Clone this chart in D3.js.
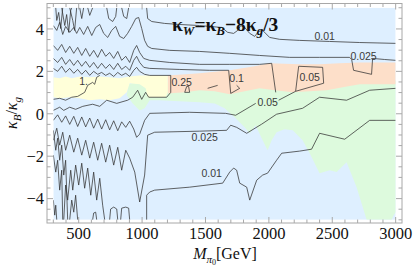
<!DOCTYPE html>
<html>
<head>
<meta charset="utf-8">
<script src="https://cdn.jsdelivr.net/npm/d3@7"></script>
<style>
  html, body { margin: 0; padding: 0; background: #fff; }
  svg { display: block; }
  .tick-label { font-family: "Liberation Serif", "DejaVu Serif", serif; font-size: 16.5px; fill: #111; }
  .clabel { font-family: "Liberation Sans", Arial, sans-serif; font-size: 10.5px; fill: #3a3a3a; }
</style>
</head>
<body>
<div id="chart"></div>
<script>
// axis ticks
const xTicks = [500, 1000, 1500, 2000, 2500, 3000];
const xMinorTicks = [300, 400, 600, 700, 800, 900, 1100, 1200, 1300, 1400, 1600, 1700, 1800, 1900,
  2100, 2200, 2300, 2400, 2600, 2700, 2800, 2900];
const yTicks = [-4, -2, 0, 2, 4];
const yMinorTicks = [-5, -4.5, -3.5, -3, -2.5, -1.5, -1, -0.5, 0.5, 1, 1.5, 2.5, 3, 3.5, 4.5, 5];
const xRange = [300, 3000];
const yRange = [-5, 5];

// shaded regions [M, kB/kg]
const regionGreen = [[879,0.87],[894,1.39],[942,1.48],[997,1.44],[1044,1.48],[1454,1.48],[2243,1.58],[3000,1.58],
  [3000,-4.64],[2984,-4.78],[2968,-5],[2771,-5],[2692,-3.46],[2613,-2.28],[2534,-2.75],[2479,-2.66],[2400,-2.8],
  [2322,-1.86],[2266,-1.25],[2188,-0.78],[2124,-0.73],[2061,-0.87],[2022,-1.25],[1990,-1.72],[1943,-1.15],
  [1896,-0.54],[1849,-0.92],[1809,-0.64],[1730,-0.16],[1651,0.26],[1573,0.49],[1454,0.54],[1297,0.59],
  [1139,0.64],[1060,0.64],[1020,0.26],[981,0.16],[926,0.49],[879,0.87]];
const regionOrange = [[1202,1.81],[1454,1.91],[1691,2.05],[1888,2.24],[2006,2.38],[2243,2.33],[2400,2.33],
  [2558,2.38],[2716,2.42],[3000,2.42],[3000,1.39],[2716,1.39],[2582,1.25],[2456,1.11],[2188,1.01],[2046,1.11],
  [1927,1.2],[1770,1.01],[1691,0.92],[1573,1.06],[1454,1.11],[1336,1.01],[1202,0.96]];
const regionYellow = [[300,1.72],[350,1.67],[397,1.76],[445,1.67],[508,1.76],[587,1.72],[666,1.76],[744,1.72],
  [823,1.67],[902,1.76],[981,1.81],[1060,1.81],[1202,1.81],[1202,1.01],[1186,0.78],[1044,0.78],[1028,1.2],
  [981,1.39],[902,1.44],[879,1.01],[823,0.73],[744,0.64],[666,0.68],[587,0.64],[508,0.73],[429,0.78],
  [350,0.73],[300,0.78]];

// contour lines
const line001Top = [[1036,5],[1044,4.49],[1076,4.35],[1178,4.26],[1297,4.21],[1454,4.16],[1628,4.07],[1675,3.84],
  [1722,3.79],[1754,3.93],[1778,4.16],[1809,4.07],[1849,3.79],[1888,3.65],[1919,3.88],[1951,3.93],[2006,3.6],
  [2085,3.51],[2243,3.46],[2479,3.41],[2716,3.36],[3000,3.32]];
const line0025Top = [[300,4.16],[327,3.93],[350,4.31],[374,3.74],[397,4.12],[429,3.84],[461,4.07],[484,3.79],
  [508,4.07],[539,3.74],[571,4.12],[603,3.69],[634,4.07],[666,4.21],[697,3.79],[729,3.6],[760,3.93],[792,4.12],
  [823,3.65],[855,3.55],[886,3.79],[918,4.12],[950,4.49],[973,4.54],[997,4.02],[1020,3.46],[1044,3.18],
  [1076,3.08],[1218,2.99],[1454,2.94],[1691,2.85],[1927,2.75],[2164,2.66],[2400,2.66],[2637,2.66],[2653,2.56],
  [2668,2.05],[2810,1.86],[2818,2.61],[2913,2.56],[3000,2.52]];
const line005Top = [[300,3.22],[334,2.99],[366,3.27],[397,2.89],[429,3.18],[461,2.85],[492,3.13],[524,2.75],
  [555,3.08],[587,2.71],[618,2.99],[650,2.66],[681,3.04],[713,2.71],[744,2.89],[776,2.61],[808,2.94],[839,2.52],
  [871,2.71],[902,2.42],[934,2.99],[957,3.22],[981,2.89],[1013,2.61],[1060,2.52],[1218,2.42],[1454,2.33],
  [1691,2.33],[1927,2.33],[2022,2.38],[2054,1.01]];
const line01Top = [[300,2.61],[334,2.42],[366,2.66],[397,2.33],[429,2.56],[461,2.28],[492,2.52],[524,2.24],
  [555,2.47],[587,2.19],[618,2.42],[650,2.14],[681,2.38],[713,2.14],[744,2.33],[776,2.09],[808,2.38],[839,2.09],
  [871,2.24],[902,2.05],[934,2.52],[957,2.71],[981,2.42],[1013,2.19],[1060,2.14],[1297,2.09],[1533,2.05],
  [1683,2.05],[1699,0.96],[1770,1.2],[1746,1.34]];
const line025 = [[300,2.14],[334,2],[366,2.24],[397,1.95],[429,2.14],[461,1.91],[492,2.09],[524,1.86],[555,2.05],
  [587,1.81],[618,2],[650,1.86],[681,1.95],[713,1.81],[744,1.91],[776,1.76],[808,1.95],[839,1.81],[871,1.91],
  [902,1.76],[934,2.05],[957,2.19],[981,2],[1020,1.86],[1060,1.81],[1226,1.81],[1226,1.01],[1194,0.78],
  [1052,0.78],[1028,1.01],[997,0.68],[965,1.11],[926,0.78],[886,0.64],[800,0.49],[721,0.64],[666,0.35],
  [610,0.45],[532,0.35],[476,0.21],[429,0.31],[382,0.16],[350,0.31],[300,0.16]];
const line025Bits = [
  [[1336,1.01],[1352,1.29],[1367,1.29],[1375,1.01],[1336,1.01]],
  [[1517,1.2],[1596,1.34]]
];
const line1 = [[300,0.68],[350,0.73],[397,0.64],[445,0.78],[492,0.82],[547,1.01],[571,1.34],[610,1.48],
  [626,1.39],[642,1.72],[666,1.81]];
const line005Low = [[300,-0.31],[334,-0.05],[366,-0.4],[397,-0.1],[429,-0.5],[461,-0.12],[492,-0.6],[524,-0.15],
  [555,-0.62],[587,-0.2],[618,-0.68],[650,-0.25],[681,-0.72],[713,-0.28],[744,-0.76],[776,-0.33],[808,-0.8],
  [839,-0.38],[871,-0.64],[902,-0.35],[934,-0.72],[957,-1.11],[981,-0.96],[1020,-0.31],[1060,0.02],[1375,0.07],
  [1659,0.02],[1738,-0.07],[1896,0.49]];
const line005Box = [[2077,0.64],[2211,1.06],[2235,2.24],[2424,2.19],[2432,1.44],[2211,1.06]];
const line0025Low = [[300,-1.25],[327,-0.68],[350,-1.48],[374,-0.87],[397,-1.72],[429,-1.01],[461,-1.81],
  [492,-1.15],[524,-1.95],[555,-1.25],[587,-2.09],[618,-1.34],[650,-2.19],[681,-1.39],[713,-2.28],[744,-1.48],
  [776,-2.42],[808,-1.58],[839,-2.66],[871,-1.72],[902,-2.09],[942,-2.75],[981,-4.16],[1020,-2.89],[1044,-1.01],
  [1099,-0.87],[1454,-0.82],[1667,-0.78],[1699,-0.54],[1746,-0.64],[1825,-0.92],[1943,-0.49],[2061,-0.02],
  [2266,0.26],[2400,0.78],[2613,0.64],[2795,1.11],[3000,1.2]];
const line001Low = [[1036,-5],[1036,-3.84],[1060,-3.69],[1099,-3.6],[1375,-3.46],[1636,-3.27],[1691,-2.75],
  [1722,-2.56],[1746,-2.66],[1770,-3.27],[1825,-3.46],[1849,-4.07],[1904,-3.13],[1951,-2.89],[1990,-2.8],
  [2061,-2.19],[2101,-1.86],[2243,-1.76],[2337,-1.67],[2400,-0.92],[2598,-1.2],[2795,-0.31],[3000,-0.31]];
// the tangle of low-mass pieces
const linesLeft = [
  [[319,5],[327,4.4],[342,4.78],[358,4.02],[374,5]],
  [[366,5],[390,4.16],[405,4.68],[421,3.84],[437,4.87],[445,5]],
  [[429,5],[453,4.4],[468,3.93],[484,5]],
  [[508,5],[524,4.49],[539,5]],
  [[571,5],[587,4.64],[610,5]],
  [[721,5],[737,4.49],[768,4.35],[792,4.59],[800,5]],
  [[839,5],[855,4.59],[879,4.49],[894,5]],
  [[300,-1.95],[319,-2.75],[334,-2.19],[350,-3.6],[366,-2.66],[374,-5]],
  [[382,-5],[397,-3.36],[413,-4.07],[437,-2.66],[453,-3.6],[476,-2.42],[500,-3.36],[524,-2.33],[547,-3.51],
    [571,-2.56],[595,-3.84],[618,-2.75],[642,-4.07],[666,-3.04],[689,-4.31],[705,-5]],
  [[429,-5],[445,-4.07],[461,-4.64],[476,-3.84],[492,-5]],
  [[300,-4.07],[311,-4.78],[319,-4.31],[327,-5]],
  [[300,-0.78],[319,-1.72],[334,-1.15],[350,-2.19],[366,-1.48],[382,-2.89],[397,-2.19],[413,-5]],
  [[610,-5],[618,-4.68],[634,-4.64],[642,-5]],
  [[744,-5],[752,-4.49],[776,-4.4],[800,-4.49],[808,-5]],
  [[831,-5],[839,-4.45],[871,-4.4],[894,-4.45],[902,-5]]
];
const contourLabels = [
  { text: '0.01', x: 2440, y: 3.65 },
  { text: '0.025', x: 2747, y: 2.71 },
  { text: '0.25', x: 1312, y: 1.48 },
  { text: '0.1', x: 1746, y: 1.67 },
  { text: '0.05', x: 2322, y: 1.72 },
  { text: '0.05', x: 1990, y: 0.54 },
  { text: '0.025', x: 1494, y: -1.13 },
  { text: '0.01', x: 1549, y: -2.8 },
  { text: '1.', x: 539, y: 1.53 }
];

const width = 415, height = 268;
const svg = d3.select('#chart').append('svg').attr('width', width).attr('height', height);

const x = d3.scaleLinear().domain([250, 3050]).range([47, 402]);
const y = d3.scaleLinear().domain([-5.15, 5.2]).range([223, 3.5]);

svg.append('clipPath').attr('id', 'plotClip').append('rect')
  .attr('x', x(xRange[0])).attr('y', y(yRange[1]))
  .attr('width', x(xRange[1]) - x(xRange[0])).attr('height', y(yRange[0]) - y(yRange[1]));

const plot = svg.append('g').attr('clip-path', 'url(#plotClip)');

plot.append('rect')
  .attr('x', x(xRange[0])).attr('y', y(yRange[1]))
  .attr('width', x(xRange[1]) - x(xRange[0])).attr('height', y(yRange[0]) - y(yRange[1]))
  .attr('fill', '#deefff');

const line = d3.line().x(d => x(d[0])).y(d => y(d[1]));

plot.append('path').attr('d', line(regionGreen) + 'Z').attr('fill', '#ddfadd');
plot.append('path').attr('d', line(regionOrange) + 'Z').attr('fill', '#fddfc9');
plot.append('path').attr('d', line(regionYellow) + 'Z').attr('fill', '#ffffd9');

const contours = [line001Top, line0025Top, line005Top, line01Top, line025, ...line025Bits, line1,
  line005Low, line005Box, line0025Low, line001Low, ...linesLeft];
plot.selectAll('.contour')
  .data(contours)
  .enter().append('path')
  .attr('class', 'contour')
  .attr('d', line)
  .attr('fill', 'none')
  .attr('stroke', '#333')
  .attr('stroke-opacity', 0.85)
  .attr('stroke-width', 0.9)
  .attr('stroke-linejoin', 'round');

plot.selectAll('.clabel')
  .data(contourLabels)
  .enter().append('text')
  .attr('class', 'clabel')
  .attr('x', d => x(d.x)).attr('y', d => y(d.y))
  .attr('dy', '0.35em')
  .attr('text-anchor', 'middle')
  .text(d => d.text);

// frame + inward ticks on all sides
const frame = svg.append('g');
const tickColor = '#a8a8a8';
const x0 = x(250), x1 = x(3050), yTop = y(5.2), yBot = y(-5.15);
frame.append('rect').attr('x', x0).attr('y', yTop).attr('width', x1 - x0).attr('height', yBot - yTop)
  .attr('fill', 'none').attr('stroke', tickColor).attr('stroke-width', 1);

xTicks.concat(xMinorTicks).forEach(v => {
  const len = xTicks.includes(v) ? 6 : 3.5;
  frame.append('line').attr('x1', x(v)).attr('x2', x(v)).attr('y1', yBot).attr('y2', yBot - len).attr('stroke', tickColor);
  frame.append('line').attr('x1', x(v)).attr('x2', x(v)).attr('y1', yTop).attr('y2', yTop + len).attr('stroke', tickColor);
});
yTicks.concat(yMinorTicks).forEach(v => {
  const len = yTicks.includes(v) ? 6 : 3.5;
  frame.append('line').attr('y1', y(v)).attr('y2', y(v)).attr('x1', x0).attr('x2', x0 + len).attr('stroke', tickColor);
  frame.append('line').attr('y1', y(v)).attr('y2', y(v)).attr('x1', x1).attr('x2', x1 - len).attr('stroke', tickColor);
});

svg.selectAll('.xlab').data(xTicks).enter().append('text')
  .attr('class', 'tick-label').attr('x', d => x(d)).attr('y', 239)
  .attr('text-anchor', 'middle').text(d => d);
svg.selectAll('.ylab').data(yTicks).enter().append('text')
  .attr('class', 'tick-label').attr('x', 44).attr('y', d => y(d)).attr('dy', '0.35em')
  .attr('text-anchor', 'end').text(d => d < 0 ? '\u2212' + Math.abs(d) : d);

// axis titles
const serif = '"Liberation Serif", "DejaVu Serif", serif';
const xTitle = svg.append('text').attr('x', 225).attr('y', 259).attr('text-anchor', 'middle')
  .style('font-family', serif).style('font-size', '16px').attr('fill', '#111');
xTitle.append('tspan').style('font-style', 'italic').text('M');
xTitle.append('tspan').attr('dy', 4).style('font-size', '11px').style('font-style', 'italic').text('\u03c0');
xTitle.append('tspan').attr('dy', 2).style('font-size', '8px').text('0');
xTitle.append('tspan').attr('dy', -6).text('[GeV]');

const yTitle = svg.append('text').attr('transform', 'translate(17,113) rotate(-90)').attr('text-anchor', 'middle')
  .style('font-family', serif).style('font-size', '16px').attr('fill', '#111');
yTitle.append('tspan').style('font-style', 'italic').text('\u03ba');
yTitle.append('tspan').attr('dy', 4).style('font-size', '11px').style('font-style', 'italic').text('B');
yTitle.append('tspan').attr('dy', -4).text('/');
yTitle.append('tspan').style('font-style', 'italic').text('\u03ba');
yTitle.append('tspan').attr('dy', 4).style('font-size', '11px').style('font-style', 'italic').text('g');

// plot title
const title = svg.append('text').attr('x', 172).attr('y', 31)
  .style('font-family', serif).style('font-size', '19.5px').style('font-weight', 'bold').attr('fill', '#111');
title.append('tspan').text('\u03ba');
title.append('tspan').attr('dy', 3.5).style('font-size', '13px').style('font-style', 'italic').text('W');
title.append('tspan').attr('dy', -3.5).text('=\u03ba');
title.append('tspan').attr('dy', 3.5).style('font-size', '13px').style('font-style', 'italic').text('B');
title.append('tspan').attr('dy', -3.5).text('\u22128\u03ba');
title.append('tspan').attr('dy', 3.5).style('font-size', '13px').style('font-style', 'italic').text('g');
title.append('tspan').attr('dy', -3.5).text('/3');
</script>
</body>
</html>
